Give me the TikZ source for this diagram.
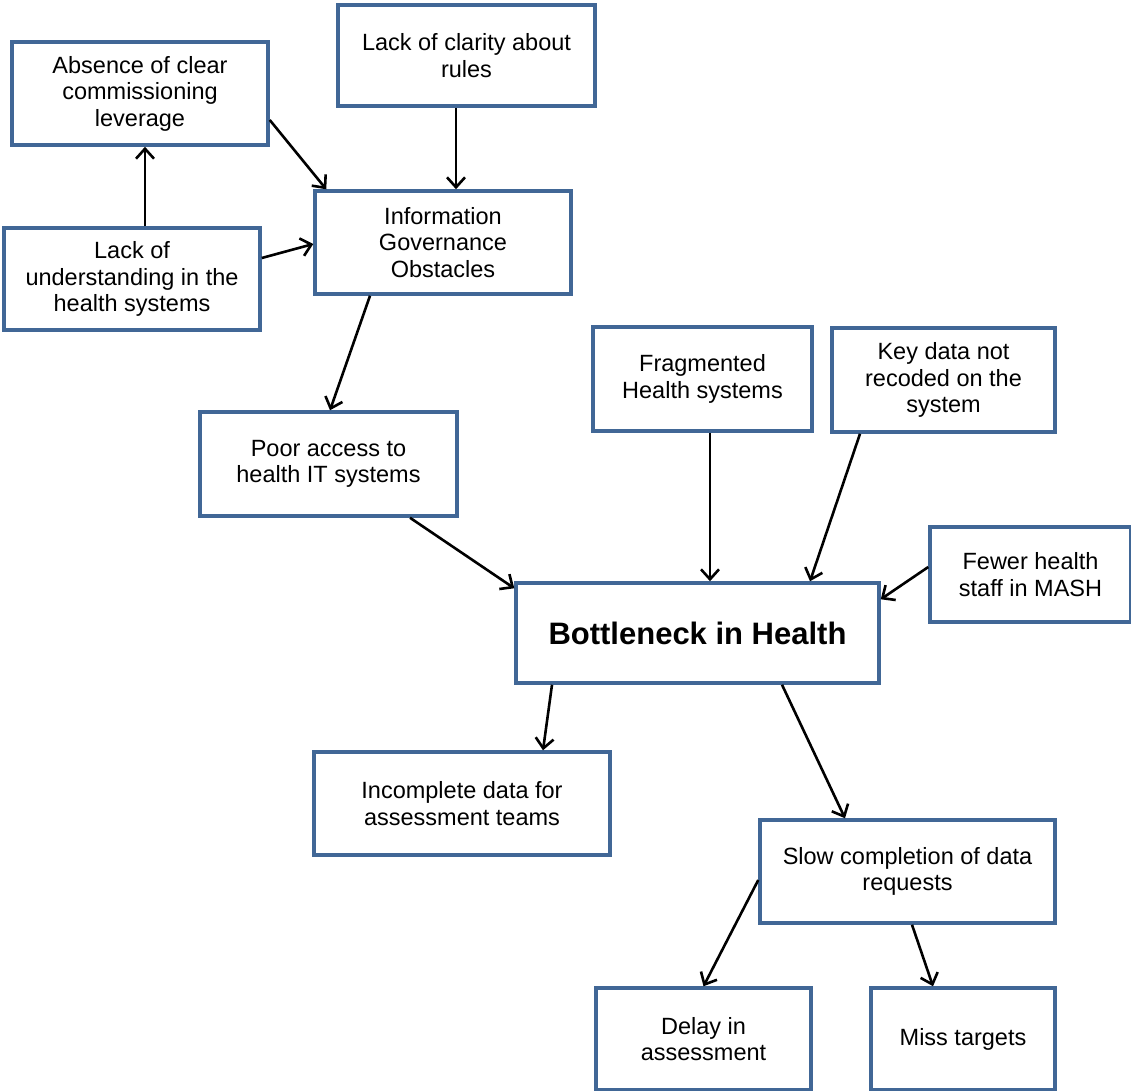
\documentclass[tikz,border=0pt]{standalone}
\usepackage{fontspec}
\setmainfont{Liberation Sans}
\usepackage{tikz}
\usetikzlibrary{arrows.meta}
\definecolor{mblue}{RGB}{65, 103, 150}
\tikzset{box/.style = {draw=mblue, line width=3.5pt, fill=white, align=center,
                       inner sep=0, font=\fontsize{23.5}{26.5}\selectfont}}
\tikzset{arr/.style = {line width=2.6pt, -{Straight Barb[length=10pt, width=18pt, line width=2.6pt]}}}

\begin{document}
\begin{tikzpicture}[x=1pt, y=-1pt]
    \useasboundingbox (0, 0) rectangle (1131, 1090);

    \node [box, minimum width=256, minimum height=103] (absence) at (140, 93.5) {Absence of clear\\commissioning\\leverage};
    \node [box, minimum width=257, minimum height=101] (clarity) at (466.5, 55.5) {Lack of clarity about\\rules};
    \node [box, minimum width=256, minimum height=102] (under) at (132, 279) {Lack of\\understanding in the\\health systems};
    \node [box, minimum width=256, minimum height=103] (info) at (443, 242.5) {Information\\Governance\\Obstacles};
    \node [box, minimum width=257, minimum height=104] (poor) at (328.5, 464) {Poor access to\\health IT systems};
    \node [box, minimum width=219, minimum height=104] (frag) at (702.5, 379) {Fragmented\\Health systems};
    \node [box, minimum width=223, minimum height=104] (key) at (943.5, 380) {Key data not\\recoded on the\\system};
    \node [box, minimum width=201, minimum height=95] (fewer) at (1030.5, 574.5) {Fewer health\\staff in MASH};
    \node [box, minimum width=363, minimum height=100, font=\fontsize{31}{36}\selectfont\bfseries] (bottle) at (697.5, 633) {Bottleneck in Health};
    \node [box, minimum width=296, minimum height=103] (incomplete) at (462, 803.5) {Incomplete data for\\assessment teams};
    \node [box, minimum width=295, minimum height=103] (slow) at (907.5, 871.5) {Slow completion of data\\requests};
    \node [box, minimum width=215, minimum height=102] (delay) at (703.5, 1039) {Delay in\\assessment};
    \node [box, minimum width=184, minimum height=102] (miss) at (963, 1039) {Miss targets};

    \draw [arr] ([xshift=13pt]under.north) -- ([xshift=5pt]absence.south);
    \draw [arr] ([yshift=21pt]under.east) -- ([yshift=-1.5pt]info.west);
    \draw [arr] ([yshift=-26.5pt]absence.east) -- ([xshift=13pt]info.north west);
    \draw [arr] ([xshift=-10.5pt]clarity.south) -- ([xshift=13pt]info.north);
    \draw [arr] ([xshift=-73pt]info.south) -- ([xshift=1.5pt]poor.north);

    \draw [arr] ([xshift=81.5pt]poor.south) -- ([yshift=-7pt]bottle.north west);
    \draw [arr] ([xshift=7.5pt]frag.south) -- ([xshift=12.5pt]bottle.north);
    \draw [arr] ([xshift=-83.5pt]key.south) -- ([xshift=112.5pt]bottle.north);
    \draw [arr] ([yshift=7.5pt]fewer.west) -- ([yshift=-18pt]bottle.north east);

    \draw [arr] ([xshift=-145.5pt]bottle.south) -- ([xshift=81pt]incomplete.north);
    \draw [arr] ([xshift=84.5pt]bottle.south) -- ([xshift=-62.5pt]slow.north);
    \draw [arr] ([yshift=-8.5pt]slow.west) -- (delay.north);
    \draw [arr] ([xshift=4.5pt]slow.south) -- ([xshift=-30pt]miss.north);
\end{tikzpicture}
\end{document}
